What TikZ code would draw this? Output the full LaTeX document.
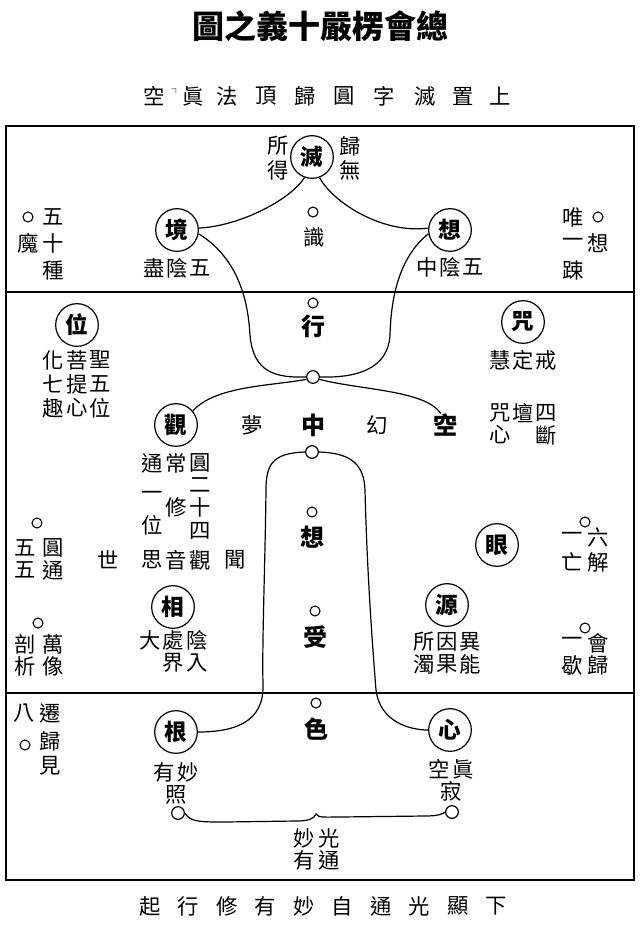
\documentclass[tikz,border=0pt]{standalone}
\usepackage{fontspec}
\setmainfont{Noto Sans CJK TC}
\begin{document}
\begin{tikzpicture}[x=0.75pt,y=-0.75pt,
  t/.style={inner sep=0pt, font=\fontsize{16}{16}\selectfont},
  tb/.style={inner sep=0pt, font=\fontsize{18}{18}\selectfont\bfseries},
  cn/.style={draw, circle, line width=0.9pt, minimum size=32pt, inner sep=0pt, font=\fontsize{17}{17}\selectfont\bfseries},
  dot/.style={draw, circle, line width=0.8pt, minimum size=7.5pt, inner sep=0pt},
  jn/.style={draw, circle, line width=0.9pt, minimum size=9.5pt, inner sep=0pt},
  con/.style={line width=0.9pt},
  frame/.style={line width=1.2pt}]
\useasboundingbox (0,0) rectangle (642,925);

% title and captions
\node[inner sep=0pt, font=\fontsize{24}{24}\selectfont\bfseries] (title) at (320,26) {圖之義十嚴楞會總};
\foreach \c/\x [count=\i] in {空/154,眞/193,法/227,頂/266,歸/305,圓/344,字/384,滅/425,置/463,上/500}
  {\node[t] (s\i) at (\x,96) {\c};}
\node[inner sep=0pt, font=\fontsize{7}{7}\selectfont] (sk) at (176,91) {┐};
\foreach \c [count=\i] in {起,行,修,有,妙,自,通,光,顯,下}
  {\node[t] (b\i) at ({150+38.5*(\i-1)},906) {\c};}

% frame
\draw[frame] (6,126) rectangle (634,880);
\draw[frame] (6,292) -- (634,292);
\draw[frame] (6,693) -- (634,693);

% ---------- top section ----------
\node[cn] (mie) at (312,157) {滅};
\node[cn] (jing) at (177,230) {境};
\node[cn] (xiang) at (450,230) {想};
\foreach \c/\x/\y [count=\i] in {所/278/146,得/278/170,歸/350/146,無/350/170,
  五/53/217,魔/28/243,十/53/243,種/53/270,
  盡/154/268,陰/177/268,五/200/268,
  中/427/267,陰/450/267,五/473/267,
  識/314/237,
  唯/573/217,一/573/243,想/598/243,踈/573/270}
  {\node[t] (u\i) at (\x,\y) {\c};}
\node[dot] (ud1) at (28,217) {};
\node[dot] (ud2) at (313,212) {};
\node[dot] (ud3) at (598,217) {};

% ---------- middle section ----------
\node[cn] (wei) at (77,325) {位};
\node[cn] (zhou) at (523,322) {咒};
\node[cn] (guan) at (176,425) {觀};
\node[cn] (yan) at (497,545) {眼};
\node[cn] (xiangc) at (173,607) {相};
\node[cn] (yuan) at (447,605) {源};
\node[jn] (n1) at (313,377) {};
\node[jn] (n2) at (312,452) {};
\node[tb] (hang) at (313,326) {行};
\node[tb] (zhong) at (313,425) {中};
\node[tb] (kong) at (445,425) {空};
\node[tb] (xiang2) at (312,537) {想};
\node[tb] (shou) at (315,637) {受};
\node[dot] (md1) at (313,303) {};
\node[dot] (md2) at (312,512) {};
\node[dot] (md3) at (315,611) {};
\node[dot] (md4) at (37,523) {};
\node[dot] (md5) at (38,623) {};
\node[dot] (md6) at (585,522) {};
\node[dot] (md7) at (585,628) {};
\foreach \c/\x/\y [count=\i] in {化/53/360,菩/77/360,聖/100/360,七/53/384,提/77/384,五/100/384,趣/53/408,心/77/408,位/100/408,
  慧/500/360,定/523/360,戒/546/360,咒/500/413,壇/523/413,四/546/413,心/500/435,斷/546/435,
  夢/252/425,幻/377/425,
  通/152/463,常/176/463,圓/200/463,二/200/485,一/152/496,修/176/507,十/200/507,位/152/525,四/200/531,
  世/108/560,思/152/560,音/176/560,觀/200/560,聞/235/560,
  五/25/548,圓/53/548,五/25/570,通/53/570,
  一/572/537,六/598/537,亡/572/562,解/598/562,
  大/150/640,處/173/640,陰/197/640,界/173/663,入/197/663,
  剖/25/644,萬/53/644,析/25/666,像/53/666,
  所/424/642,因/447/642,異/470/642,濁/424/664,果/447/664,能/470/664,
  一/572/642,會/598/643,歇/572/665,歸/598/665}
  {\node[t] (m\i) at (\x,\y) {\c};}

% ---------- bottom section ----------
\node[cn] (gen) at (176,732) {根};
\node[cn] (xin) at (450,730) {心};
\node[tb] (se) at (316,729) {色};
\node[dot] (bd1) at (316,703) {};
\node[dot] (bd2) at (25,745) {};
\node[jn] (lc) at (178,813) {};
\node[jn] (rc) at (452,812) {};
\foreach \c/\x/\y [count=\i] in {八/24/713,遷/50/713,歸/50/741,見/50/766,
  有/164/772,妙/188/772,照/176/795,
  空/439/769,眞/463/769,寂/451/791,
  妙/304/838,光/329/838,有/304/860,通/329/860}
  {\node[t] (d\i) at (\x,\y) {\c};}

% ---------- connectors ----------
\draw[con] (mie.250) .. controls (290,200) and (240,226) .. (jing.5);
\draw[con] (mie.290) .. controls (335,205) and (385,234) .. (xiang.175);
\draw[con] (jing.-10) .. controls (238,258) and (248,300) .. (250,335)
  .. controls (253,372) and (275,378) .. (n1.west);
\draw[con] (xiang.190) .. controls (398,258) and (391,300) .. (390,335)
  .. controls (388,370) and (355,378) .. (n1.east);
\draw[con] (n1.200) .. controls (270,386) and (215,386) .. (guan.40);
\draw[con] (n1.-20) .. controls (360,390) and (425,390) .. (kong.110);
\draw[con] (n2.west) .. controls (272,453) and (266,465) .. (266,490)
  .. controls (265,570) and (262,640) .. (263,685)
  .. controls (264,722) and (235,732) .. (gen.east);
\draw[con] (n2.east) .. controls (352,453) and (364,465) .. (365,490)
  .. controls (367,570) and (372,640) .. (376,690)
  .. controls (380,722) and (410,730) .. (xin.west);
\draw[con] (lc.east) .. controls (190,822) and (200,822) .. (225,822) -- (296,821)
  .. controls (308,821) and (314,819) .. (316,814)
  .. controls (318,818) and (326,817) .. (340,817) -- (425,816)
  .. controls (438,816) and (443,814) .. (rc.west);
\end{tikzpicture}
\end{document}
